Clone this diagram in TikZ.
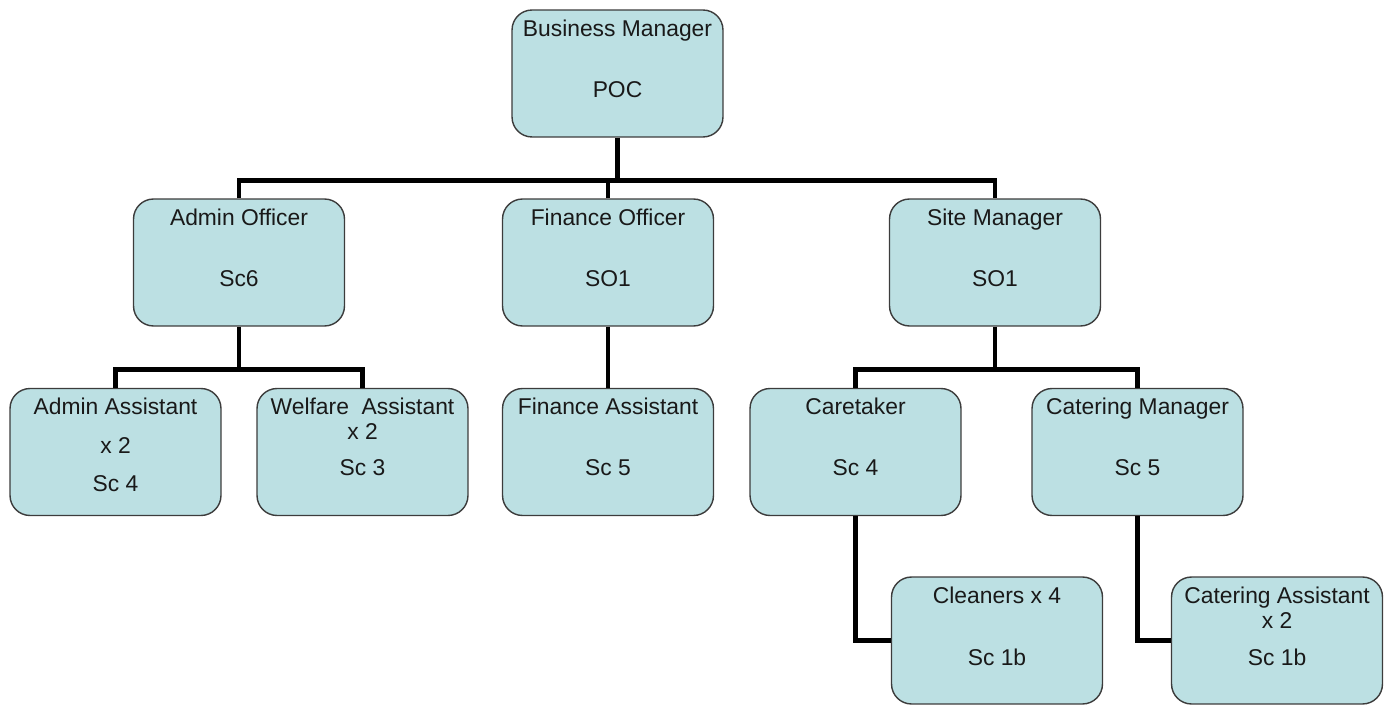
\documentclass[tikz,border=0pt]{standalone}
\usepackage{fontspec}
\setmainfont{Liberation Sans}
\definecolor{boxfill}{HTML}{BCE0E3}
\definecolor{boxline}{HTML}{3C3C3C}
\begin{document}
\begin{tikzpicture}[x=0.02cm,y=-0.02cm,
  post/.style={draw=boxline,line width=0.8pt,fill=boxfill,rounded corners=0.4cm,minimum width=4.22cm,minimum height=2.54cm},
  txt/.style={anchor=base,inner sep=0pt,text=black!90,font=\fontsize{13}{15.6}\selectfont},
  link/.style={line width=2.6pt}]
\useasboundingbox (0,0) rectangle (1391,705);
% boxes
\node[post] (bm) at (617.5,73.5) {};
\node[post] (ao) at (239,262.5) {};
\node[post] (fo) at (608,262.5) {};
\node[post] (sm) at (995,262.5) {};
\node[post] (aa) at (115.5,452) {};
\node[post] (wa) at (362.5,452) {};
\node[post] (fa) at (608,452) {};
\node[post] (ct) at (855.5,452) {};
\node[post] (cm) at (1137.5,452) {};
\node[post] (cl) at (997,640.5) {};
\node[post] (ca) at (1277,640.5) {};
% texts
\node[txt] (bm1) at ([yshift=-0.54cm]bm.north) {Business Manager};
\node[txt] (bm2) at ([yshift=-1.76cm]bm.north) {POC};
\node[txt] (ao1) at ([yshift=-0.54cm]ao.north) {Admin Officer};
\node[txt] (ao2) at ([yshift=-1.76cm]ao.north) {Sc6};
\node[txt] (fo1) at ([yshift=-0.54cm]fo.north) {Finance Officer};
\node[txt] (fo2) at ([yshift=-1.76cm]fo.north) {SO1};
\node[txt] (sm1) at ([yshift=-0.54cm]sm.north) {Site Manager};
\node[txt] (sm2) at ([yshift=-1.76cm]sm.north) {SO1};
\node[txt] (aa1) at ([yshift=-0.54cm]aa.north) {Admin Assistant};
\node[txt] (aa2) at ([yshift=-1.32cm]aa.north) {x 2};
\node[txt] (aa3) at ([yshift=-2.08cm]aa.north) {Sc 4};
\node[txt] (wa1) at ([yshift=-0.54cm]wa.north) {Welfare\ \ Assistant};
\node[txt] (wa2) at ([yshift=-1.04cm]wa.north) {x 2};
\node[txt] (wa3) at ([yshift=-1.76cm]wa.north) {Sc 3};
\node[txt] (fa1) at ([yshift=-0.54cm]fa.north) {Finance Assistant};
\node[txt] (fa2) at ([yshift=-1.76cm]fa.north) {Sc 5};
\node[txt] (ct1) at ([yshift=-0.54cm]ct.north) {Caretaker};
\node[txt] (ct2) at ([yshift=-1.76cm]ct.north) {Sc 4};
\node[txt] (cm1) at ([yshift=-0.54cm]cm.north) {Catering Manager};
\node[txt] (cm2) at ([yshift=-1.76cm]cm.north) {Sc 5};
\node[txt] (cl1) at ([yshift=-0.54cm]cl.north) {Cleaners x 4};
\node[txt] (cl2) at ([yshift=-1.78cm]cl.north) {Sc 1b};
\node[txt] (ca1) at ([yshift=-0.54cm]ca.north) {Catering Assistant};
\node[txt] (ca2) at ([yshift=-1.04cm]ca.north) {x 2};
\node[txt] (ca3) at ([yshift=-1.78cm]ca.north) {Sc 1b};
% connectors
\draw[link] (bm.south) -- ++(0,43) coordinate (j1);
\draw[link] (ao.north) |- (j1) -| (sm.north);
\draw[link] (fo.north) -- (fo.north |- j1);
\draw[link] (ao.south) -- ++(0,43) coordinate (j2);
\draw[link] (aa.north) |- (j2) -| (wa.north);
\draw[link] (fo.south) -- (fa.north);
\draw[link] (sm.south) -- ++(0,43) coordinate (j3);
\draw[link] (ct.north) |- (j3) -| (cm.north);
\draw[link] (ct.south) |- (cl.west);
\draw[link] (cm.south) |- (ca.west);
\end{tikzpicture}
\end{document}
